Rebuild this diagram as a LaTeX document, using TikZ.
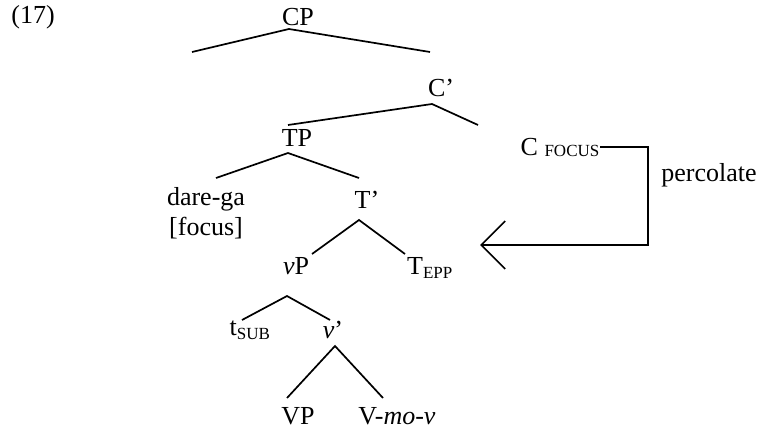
\documentclass[tikz,border=0pt]{standalone}
\usepackage{fontspec}
\setmainfont{Liberation Serif}
\usetikzlibrary{arrows.meta}

\newcommand{\smallsub}[1]{\textsubscript{\fontsize{17}{17}\selectfont #1}}
\tikzset{lbl/.style={inner sep=0pt, font=\fontsize{26}{30}\selectfont, align=center}}

\begin{document}
\begin{tikzpicture}[x=1pt, y=-1pt, line width=1.7pt]
\useasboundingbox (0,0) rectangle (761,431);

\node[lbl] (ex) at (33,17) {(17)};

% CP
\node[lbl] (cp) at (298,17) {CP};
\coordinate (cp-a) at (289,29);
\coordinate (cp-l) at (192,52);
\coordinate (cp-r) at (430,52);
\draw (cp-l)--(cp-a)--(cp-r);

% C'
\node[lbl] (cbar) at (441,88) {C’};
\coordinate (cbar-a) at (432,104);
\coordinate (cbar-l) at (288,125);
\coordinate (cbar-r) at (478,125);
\draw (cbar-l)--(cbar-a)--(cbar-r);

\node[lbl] (cfoc) at (560,147) {C \raisebox{-1pt}{\fontsize{17}{17}\selectfont FOCUS}};

% TP
\node[lbl] (tp) at (297,138) {TP};
\coordinate (tp-a) at (288,153);
\coordinate (tp-l) at (216,178);
\coordinate (tp-r) at (359,178);
\draw (tp-l)--(tp-a)--(tp-r);

\node[lbl] (dare) at (206,213) {dare-ga\\{}[focus]};

% T'
\node[lbl] (tbar) at (367,200) {T’};
\coordinate (tbar-a) at (359,220);
\coordinate (tbar-l) at (312,254);
\coordinate (tbar-r) at (405,254);
\draw (tbar-l)--(tbar-a)--(tbar-r);

\node[lbl] (vp) at (296,266) {\textit{v}P};
\node[lbl] (tepp) at (430,268) {T\smallsub{EPP}};

% vP
\coordinate (vp-a) at (287,296);
\coordinate (vp-l) at (242,320);
\coordinate (vp-r) at (330,320);
\draw (vp-l)--(vp-a)--(vp-r);

\node[lbl] (tsub) at (250,330) {t\smallsub{SUB}};
\node[lbl] (vbar) at (333,330) {\textit{v}’};

% v'
\coordinate (vbar-a) at (335,346);
\coordinate (vbar-l) at (287,398);
\coordinate (vbar-r) at (383,398);
\draw (vbar-l)--(vbar-a)--(vbar-r);

\node[lbl] (bigvp) at (298,416) {VP};
\node[lbl] (vmov) at (397,416) {V-\textit{mo}-\textit{v}};

% percolate
\node[lbl] (perc) at (709,175) {percolate};
\coordinate (bend) at (648,245);
\coordinate (tgt) at (480,245);
\draw[-{Straight Barb[length=24pt,width=48pt]}] (cfoc.east) -| (bend) -- (tgt);

\end{tikzpicture}
\end{document}
